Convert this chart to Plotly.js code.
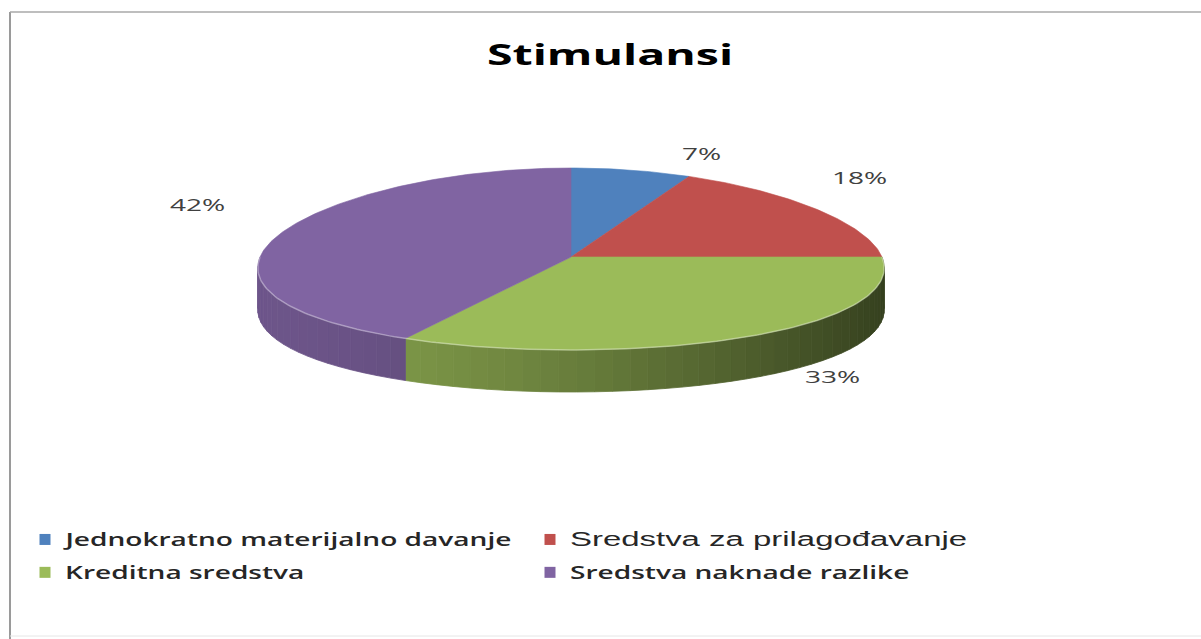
<!DOCTYPE html>
<html><head><meta charset="utf-8">
<script src="https://cdn.plot.ly/plotly-3.0.1.min.js"></script>
<style>
html,body{margin:0;padding:0;background:#fff}
#chart{width:1201px;height:639px}
.gtitle{transform-box:fill-box;transform-origin:50% 50%;transform:scaleX(1.66)}
.legendtext{transform-box:fill-box;transform-origin:0% 50%;transform:scale(1.22,0.78)}
.annotation-text{transform-box:fill-box;transform-origin:50% 50%;transform:scaleX(1.65)}
</style></head><body><div id="chart"></div>
<script>
// ---- data ----
const categories = ['Jednokratno materijalno davanje', 'Sredstva za prilagođavanje', 'Kreditna sredstva', 'Sredstva naknade razlike'];
const values = [7, 18, 33, 42];
const valueLabels = ['7%', '18%', '33%', '42%'];

// ---- styles ----
const colors = [[79,129,189],[192,80,77],[155,187,89],[128,100,162]];
const labelShift = [[71,17],[43,32],[87,3],[-81,30]];
const CX = 571, CY = 257, RX = 311, RY_BACK = 89, RY_FRONT = 93, DEPTH = 42, PERSP = 0.12;

function rgb(c, m) { m = m || 1; return 'rgb(' + c.map(v => Math.round(v*m)).join(',') + ')'; }
function pt(deg, dy) {
  const r = deg*Math.PI/180, s = Math.sin(r), c = Math.cos(r);
  const ry = c > 0 ? RY_BACK : RY_FRONT;
  return [CX + RX*s*(1 - PERSP*c), CY - ry*c + (dy || 0)];
}

const total = values.reduce((a,b) => a+b, 0);
const slices = [];
let acc = 0;
values.forEach((v, i) => { const a0 = acc/total*360; acc += v; slices.push({a0: a0, a1: acc/total*360, i: i}); });

const traces = [];
// side walls (front half only)
slices.forEach(s => {
  const lo = Math.max(s.a0, 90), hi = Math.min(s.a1, 270);
  if (lo >= hi) return;
  const n = Math.ceil((hi - lo) / 3);
  for (let j = 0; j < n; j++) {
    const b0 = lo + (hi-lo)*j/n, b1 = lo + (hi-lo)*(j+1)/n;
    const p0 = pt(b0), p1 = pt(b1), q1 = pt(b1, DEPTH), q0 = pt(b0, DEPTH);
    const t = ((p0[0]+p1[0])/2 - (CX - RX)) / (2*RX);
    const m = 0.85 - 0.5*Math.pow(Math.max(t,0), 1.5);
    traces.push({type:'scatter', mode:'lines', x:[p0[0],p1[0],q1[0],q0[0],p0[0]], y:[p0[1],p1[1],q1[1],q0[1],p0[1]],
      fill:'toself', fillcolor:rgb(colors[s.i], m), line:{color:rgb(colors[s.i], m), width:0.8},
      hoverinfo:'skip', showlegend:false});
  }
});
// top faces
slices.forEach(s => {
  const xs = [CX], ys = [CY];
  for (let a = s.a0; a < s.a1; a += 1) { const p = pt(a); xs.push(p[0]); ys.push(p[1]); }
  const pe = pt(s.a1); xs.push(pe[0]); ys.push(pe[1]); xs.push(CX); ys.push(CY);
  traces.push({type:'scatter', mode:'lines', x:xs, y:ys, fill:'toself', fillcolor:rgb(colors[s.i]),
    line:{color:rgb(colors[s.i]), width:0.6}, name:categories[s.i], hoverinfo:'skip', showlegend:false});
});
// rim highlight
(function(){ const xs=[], ys=[]; for (let a=90; a<=270; a+=1){ const p=pt(a); xs.push(p[0]); ys.push(p[1]); }
  traces.push({type:'scatter', mode:'lines', x:xs, y:ys, line:{color:'rgba(255,255,255,0.35)', width:1.5}, hoverinfo:'skip', showlegend:false}); })();
// legend entries
categories.forEach((c, i) => {
  const nm = i === 1 ? '<span style="font-family:\'Liberation Sans\', Arial;font-size:27px;font-weight:400">' + c + '</span>' : c;
  traces.push({type:'scatter', mode:'markers', x:[null], y:[null], name:nm,
    marker:{symbol:'square', size:11, color:rgb(colors[i])}, hoverinfo:'skip', showlegend:true});
});

// labels
const annotations = slices.map(s => {
  const mid = (s.a0 + s.a1)/2;
  const p = pt(mid, (mid > 90 && mid < 270) ? DEPTH : 0);
  return {x:p[0], y:p[1], xref:'x', yref:'y', text:valueLabels[s.i], showarrow:false,
    xshift:labelShift[s.i][0], yshift:labelShift[s.i][1],
    font:{family:'Open Sans', size:17, color:'#404040'}};
});

const layout = {
  width:1201, height:639, margin:{l:0, r:0, t:0, b:0},
  paper_bgcolor:'#ffffff', plot_bgcolor:'#ffffff',
  title:{text:'Stimulansi', font:{family:'Open Sans', size:28, color:'#000', weight:700},
    x:610/1201, xanchor:'center', y:1-55/639, yanchor:'middle', xref:'paper', yref:'paper'},
  xaxis:{range:[0,1201], visible:false, fixedrange:true},
  yaxis:{range:[639,0], visible:false, fixedrange:true},
  showlegend:true,
  legend:{orientation:'h', x:25/1201, xanchor:'left', y:1-518/639, yanchor:'top', entrywidth:460,
    font:{family:'Open Sans', size:23, color:'#262626', weight:600}, bgcolor:'rgba(0,0,0,0)', traceorder:'normal'},
  annotations: annotations,
  shapes:[
    {type:'line', xref:'x', yref:'y', x0:10, x1:10, y0:12, y1:639, line:{color:'#9a9a9a', width:2}},
    {type:'line', xref:'x', yref:'y', x0:10, x1:1201, y0:12, y1:12, line:{color:'#a8a8a8', width:1.5}},
    {type:'line', xref:'x', yref:'y', x0:10, x1:1201, y0:636, y1:636, line:{color:'#e6e6e6', width:1}}
  ]
};
Plotly.newPlot('chart', traces, layout, {displayModeBar:false, staticPlot:true});
</script></body></html>
